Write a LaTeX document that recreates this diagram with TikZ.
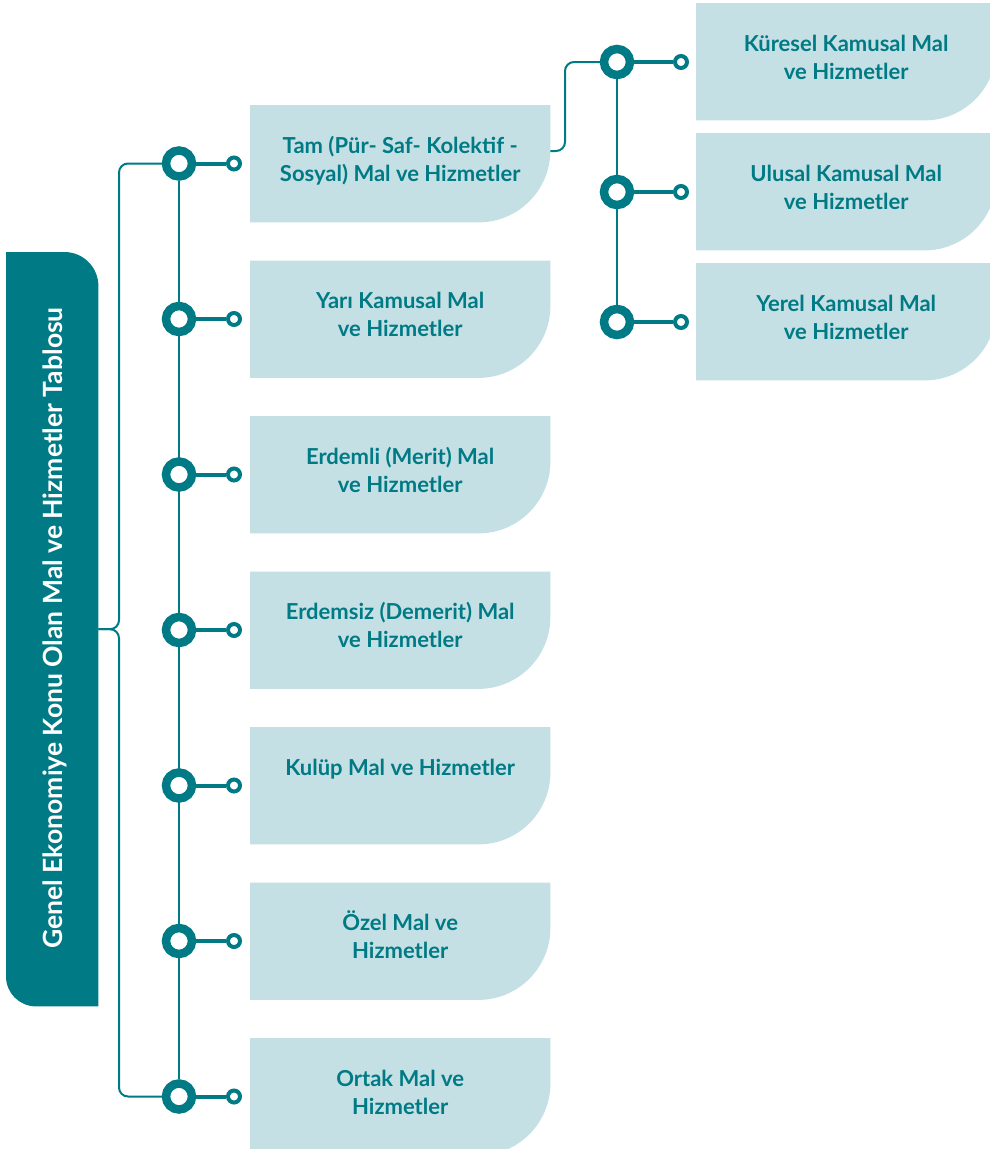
\documentclass[tikz,border=0pt]{standalone}
\usepackage{fontspec}
\setmainfont{Lato}
\usetikzlibrary{calc,backgrounds}
\definecolor{tealc}{RGB}{0,122,132}
\definecolor{boxc}{RGB}{197,224,228}
\newcommand\boxshape[1]{\fill[boxc] (#1.north west) -- (#1.north east) -- ($(#1.south east)+(0,-72)$) .. controls ($(#1.south east)+(0,-32.2)$) and ($(#1.south east)+(-32.2,0)$) .. ($(#1.south east)+(-72,0)$) -- (#1.south west) -- cycle;}
\begin{document}
\begin{tikzpicture}[x=1pt,y=-1pt,
  bigring/.style={circle, draw=tealc, fill=white, line width=8.5pt, minimum size=26pt, inner sep=0pt},
  smallring/.style={circle, draw=tealc, fill=white, line width=4pt, minimum size=12pt, inner sep=0pt},
  boxnode/.style={minimum width=300pt, minimum height=117pt, inner sep=0pt, anchor=north west},
  lbl/.style={align=center, font=\fontsize{22}{28}\selectfont\bfseries, text=tealc, inner sep=0pt, anchor=base},
  trunk/.style={draw=tealc, line width=2pt},
  stub/.style={draw=tealc, line width=4pt}]
\useasboundingbox (0,0) rectangle (989,1149);
% tab
\node[minimum width=92pt, minimum height=754pt, inner sep=0pt, anchor=north west] (tab) at (6,252) {};
\fill[tealc] ($(tab.south west)+(0,-30)$) -- (tab.north west) -- ($(tab.north east)+(-34,0)$) .. controls ($(tab.north east)+(-15.2,0)$) and ($(tab.north east)+(0,15.2)$) .. ($(tab.north east)+(0,34)$) -- (tab.south east) -- ($(tab.south west)+(30,0)$) .. controls ($(tab.south west)+(13.4,0)$) and ($(tab.south west)+(0,-13.4)$) .. cycle;
\node[rotate=90, text=white, font=\fontsize{26.5}{30}\selectfont\bfseries, inner sep=0pt, anchor=base] (tabtext) at (62,628) {Genel Ekonomiye Konu Olan Mal ve Hizmetler Tablosu};
% left boxes
\foreach \i/\t in {1/105,2/260.5,3/416,4/571.5,5/727,6/882.5,7/1038}{
  \node[boxnode] (b\i) at (250,\t) {};
  \node[bigring] (c\i) at (179,\t+58.5) {};
  \node[smallring] (s\i) at (234,\t+58.5) {};
}
% right boxes
\foreach \i/\t in {1/3,2/133,3/263}{
  \node[boxnode] (rb\i) at (696,\t) {};
  \node[bigring] (r\i) at (617,\t+59) {};
  \node[smallring] (rs\i) at (681,\t+59) {};
}
\node[lbl] (t1) at ($(b1.north)+(0,76)$) {Tam (Pür- Saf- Kolektif -\\Sosyal) Mal ve Hizmetler};
\node[lbl] (t2) at ($(b2.north)+(0,76)$) {Yarı Kamusal Mal\\ve Hizmetler};
\node[lbl] (t3) at ($(b3.north)+(0,76)$) {Erdemli (Merit) Mal\\ve Hizmetler};
\node[lbl] (t4) at ($(b4.north)+(0,76)$) {Erdemsiz (Demerit) Mal\\ve Hizmetler};
\node[lbl] (t5) at ($(b5.north)+(0,48)$) {Kulüp Mal ve Hizmetler};
\node[lbl] (t6) at ($(b6.north)+(0,76)$) {Özel Mal ve\\Hizmetler};
\node[lbl] (t7) at ($(b7.north)+(0,76)$) {Ortak Mal ve\\Hizmetler};
\node[lbl] (u1) at ($(rb1.north)+(0,76)$) {Küresel Kamusal Mal\\ve Hizmetler};
\node[lbl] (u2) at ($(rb2.north)+(0,76)$) {Ulusal Kamusal Mal\\ve Hizmetler};
\node[lbl] (u3) at ($(rb3.north)+(0,76)$) {Yerel Kamusal Mal\\ve Hizmetler};
\coordinate (b1out) at ($(b1.north east)+(0,46)$);
\coordinate (brk) at ($(tab.east)$);
\begin{pgfonlayer}{background}
  \foreach \i in {1,...,7}{\boxshape{b\i}}
  \foreach \i in {1,2,3}{\boxshape{rb\i}}
  \draw[trunk] (c1) -- (c7);
  \draw[trunk] (r1) -- (r3);
  \foreach \i in {1,...,7}{\draw[stub] (c\i) -- (s\i);}
  \foreach \i in {1,2,3}{\draw[stub] (r\i) -- (rs\i);}
  \draw[trunk, rounded corners=9pt] (brk) -- (brk -| 119,0) -- (119,0 |- c1) -- (c1);
  \draw[trunk, rounded corners=9pt] (brk) -- (brk -| 119,0) -- (119,0 |- c7) -- (c7);
  \draw[trunk, rounded corners=9pt] (b1out) -- (b1out -| 565,0) -- (565,0 |- r1) -- (r1);
\end{pgfonlayer}
\end{tikzpicture}
\end{document}
